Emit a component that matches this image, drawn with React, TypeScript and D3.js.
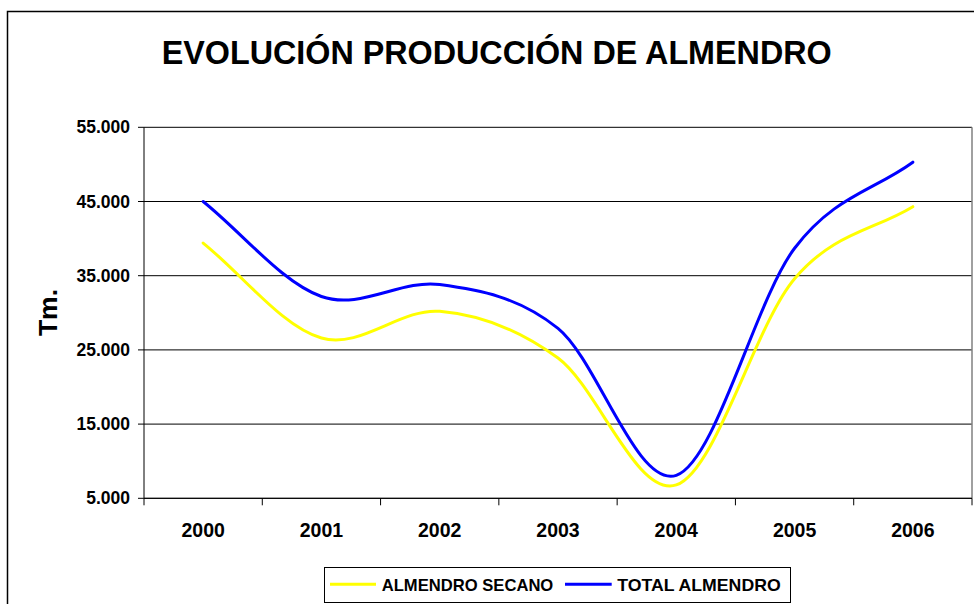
import React from 'react';
import * as d3 from 'd3';

// chart values
const years = ['2000', '2001', '2002', '2003', '2004', '2005', '2006'];
const secano = [39400, 26600, 30200, 23900, 6800, 34600, 44300];
const total = [45000, 32200, 33800, 27900, 8100, 38700, 50300];
const yTicks = [5000, 15000, 25000, 35000, 45000, 55000];
const seriesNames = ['ALMENDRO SECANO', 'TOTAL ALMENDRO'];
const seriesColors = ['#FFFF00', '#0000FF'];

const FONT = '"Liberation Sans", Arial, sans-serif';

const W = 974;
const H = 604;
const plot = { left: 144, right: 972, top: 127.3, bottom: 498.3 };

const esLocale = d3.formatLocale({
  decimal: ',',
  thousands: '.',
  grouping: [3],
  currency: ['', ' €'],
});
const fmt = esLocale.format(',d');

// Excel-like smoothing: Catmull-Rom inside, chord tangent at both ends
function smoothPath(pts: [number, number][]): string {
  const p = d3.path();
  const n = pts.length;
  const tan = pts.map((pt, i) => {
    if (i === 0) return [pts[1][0] - pt[0], pts[1][1] - pt[1]];
    if (i === n - 1) return [pt[0] - pts[n - 2][0], pt[1] - pts[n - 2][1]];
    return [(pts[i + 1][0] - pts[i - 1][0]) / 2, (pts[i + 1][1] - pts[i - 1][1]) / 2];
  });
  p.moveTo(pts[0][0], pts[0][1]);
  for (let i = 0; i < n - 1; i++) {
    const a = pts[i];
    const b = pts[i + 1];
    p.bezierCurveTo(
      a[0] + tan[i][0] / 3,
      a[1] + tan[i][1] / 3,
      b[0] - tan[i + 1][0] / 3,
      b[1] - tan[i + 1][1] / 3,
      b[0],
      b[1]
    );
  }
  return p.toString();
}

const App: React.FC = () => {
  const x = d3.scaleBand<string>().domain(years).range([plot.left, plot.right]);
  const y = d3.scaleLinear().domain([5000, 55000]).range([plot.bottom, plot.top]);
  const cx = (d: string) => (x(d) as number) + x.bandwidth() / 2;

  const series = [secano, total];
  const bounds = years.map((d) => x(d) as number).concat([plot.right]);

  return (
    <svg
      width={W}
      height={H}
      style={{ position: 'absolute', left: 0, top: 0, background: '#fff' }}
      fontFamily={FONT}
    >
      {/* outer chart border */}
      <rect x={7.5} y={11.5} width={W + 20} height={H + 20} fill="none" stroke="#000" strokeWidth={1.5} />

      <text
        x={496.7}
        y={64.3}
        textAnchor="middle"
        fontSize={32.5}
        fontWeight="bold"
        textLength={670}
        lengthAdjust="spacingAndGlyphs"
      >
        EVOLUCIÓN PRODUCCIÓN DE ALMENDRO
      </text>

      {/* grid lines */}
      {yTicks.map((t) => (
        <line key={t} x1={plot.left} x2={plot.right} y1={y(t)} y2={y(t)} stroke="#000" strokeWidth={1} />
      ))}
      {/* plot right border */}
      <line x1={plot.right} x2={plot.right} y1={plot.top} y2={plot.bottom} stroke="#808080" strokeWidth={1.5} />

      {/* y axis */}
      <line x1={plot.left} x2={plot.left} y1={plot.top} y2={plot.bottom} stroke="#000" strokeWidth={1} />
      {yTicks.map((t) => (
        <g key={t}>
          <line x1={plot.left - 6} x2={plot.left} y1={y(t)} y2={y(t)} stroke="#000" />
          <text x={130} y={y(t)} dy="0.35em" textAnchor="end" fontSize={17.5} fontWeight="bold">
            {fmt(t)}
          </text>
        </g>
      ))}
      <text
        transform={`translate(56.5, 312.5) rotate(-90)`}
        textAnchor="middle"
        fontSize={26.5}
        fontWeight="bold"
      >
        Tm.
      </text>

      {/* x axis */}
      <line x1={plot.left} x2={plot.right} y1={plot.bottom} y2={plot.bottom} stroke="#000" strokeWidth={1} />
      {bounds.map((b, i) => (
        <line key={i} x1={b} x2={b} y1={plot.bottom} y2={plot.bottom + 7} stroke="#000" />
      ))}
      {years.map((d) => (
        <text key={d} x={cx(d)} y={536.7} textAnchor="middle" fontSize={19.5} fontWeight="bold">
          {d}
        </text>
      ))}

      {/* lines */}
      {series.map((s, i) => (
        <path
          key={seriesNames[i]}
          d={smoothPath(years.map((d, j) => [cx(d), y(s[j])] as [number, number]))}
          fill="none"
          stroke={seriesColors[i]}
          strokeWidth={3}
          strokeLinejoin="round"
          strokeLinecap="round"
        />
      ))}

      {/* legend */}
      <rect x={324.5} y={567.5} width={466} height={35} fill="#fff" stroke="#000" strokeWidth={1} />
      <line x1={330} x2={376} y1={584.3} y2={584.3} stroke={seriesColors[0]} strokeWidth={3} />
      <text x={381.7} y={591} fontSize={17} fontWeight="bold" textLength={171.6} lengthAdjust="spacingAndGlyphs">
        {seriesNames[0]}
      </text>
      <line x1={565} x2={611.7} y1={584.3} y2={584.3} stroke={seriesColors[1]} strokeWidth={3} />
      <text x={617.3} y={591} fontSize={17} fontWeight="bold" textLength={163.4} lengthAdjust="spacingAndGlyphs">
        {seriesNames[1]}
      </text>
    </svg>
  );
};

export default App;
